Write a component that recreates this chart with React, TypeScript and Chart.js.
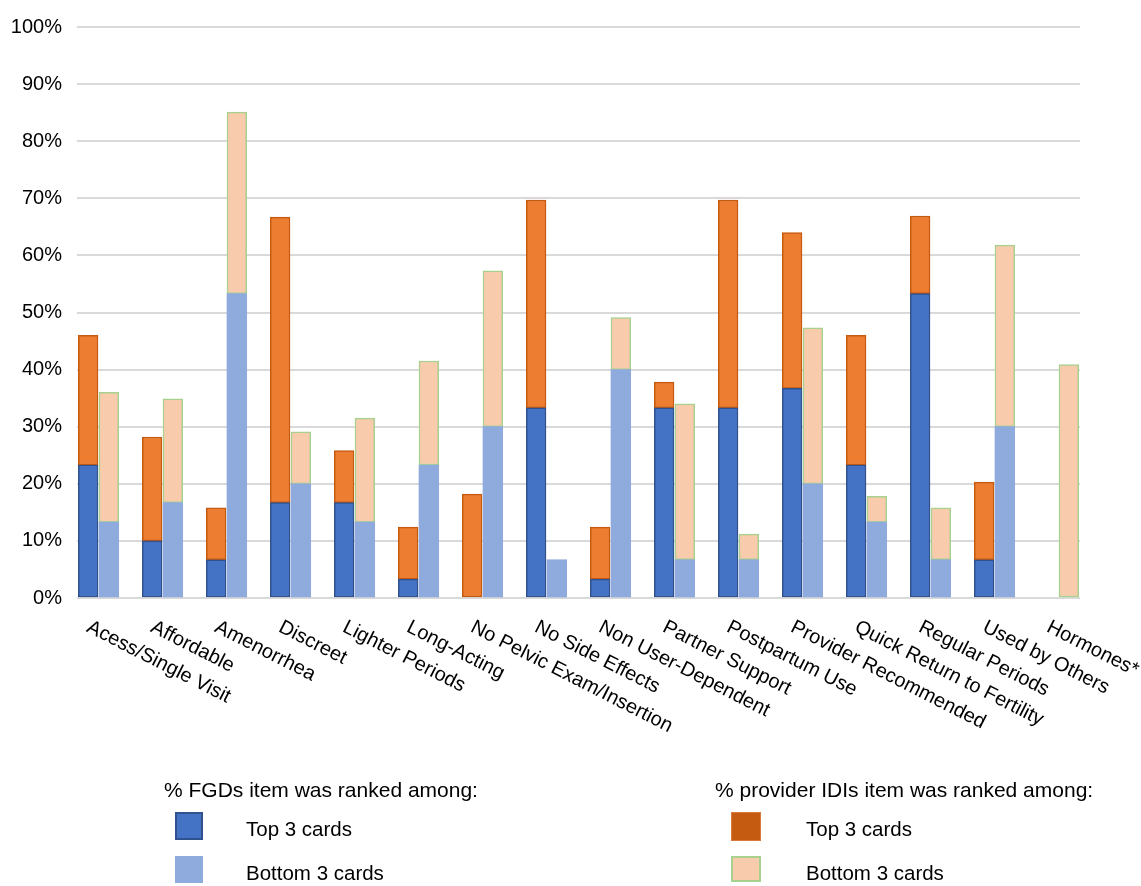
import React, { useEffect, useRef } from "react";
import { Chart, registerables } from "chart.js";

Chart.register(...registerables);

const categories = [
  "Acess/Single Visit",
  "Affordable",
  "Amenorrhea",
  "Discreet",
  "Lighter Periods",
  "Long-Acting",
  "No Pelvic Exam/Insertion",
  "No Side Effects",
  "Non User-Dependent",
  "Partner Support",
  "Postpartum Use",
  "Provider Recommended",
  "Quick Return to Fertility",
  "Regular Periods",
  "Used by Others",
  "Hormones*",
];

// % FGDs item was ranked among top / bottom 3 cards
const fgdTop = [23.3, 10, 6.7, 16.7, 16.7, 3.3, 0, 33.3, 3.3, 33.3, 33.3, 36.7, 23.3, 53.3, 6.7, 0];
const fgdBottom = [13.3, 16.7, 53.3, 20, 13.3, 23.3, 30, 6.7, 40, 6.7, 6.7, 20, 13.3, 6.7, 30, 0];
// % provider IDIs item was ranked among top / bottom 3 cards (stacked on top)
const providerTop = [22.7, 18.2, 9.1, 50, 9.1, 9.1, 18.2, 36.4, 9.1, 4.5, 36.4, 27.3, 22.7, 13.6, 13.6, 0];
const providerBottom = [22.7, 18.2, 31.8, 9.1, 18.2, 18.2, 27.3, 0, 9.1, 27.3, 4.5, 27.3, 4.5, 9.1, 31.8, 40.9];

const yTickValues = [0, 10, 20, 30, 40, 50, 60, 70, 80, 90, 100];

const legendTitles = ["% FGDs item was ranked among:", "% provider IDIs item was ranked among:"];
const legendNames = ["Top 3 cards", "Bottom 3 cards"];

const FONT = "'Liberation Sans', Arial, Helvetica, sans-serif";

const toPoints = (arr: number[]) => arr.map((v, i) => ({ x: i, y: v === 0 ? null : v }));

export default function App() {
  const ref = useRef<HTMLCanvasElement>(null);

  useEffect(() => {
    if (!ref.current) return;

    const styles = {
      fgdTop: { bg: "#4472C4", border: "#2F528F", bw: 1.5 },
      fgdBottom: { bg: "#8FAADC", border: "#8FAADC", bw: 0 },
      provTop: { bg: "#ED7D31", border: "#C55A11", bw: 1.5 },
      provBottom: { bg: "#F8CBAD", border: "#A9D18E", bw: 1.5 },
    };

    const categoryLabels = {
      id: "categoryLabels",
      afterDraw(chart: any) {
        const ctx = chart.ctx;
        const xs = chart.scales.x;
        const bottom = chart.chartArea.bottom;
        ctx.save();
        ctx.font = `20px ${FONT}`;
        ctx.fillStyle = "#000";
        ctx.textAlign = "left";
        ctx.textBaseline = "alphabetic";
        categories.forEach((c, i) => {
          const px = xs.getPixelForValue(i);
          ctx.save();
          ctx.translate(px - 13, bottom + 33);
          ctx.rotate((27 * Math.PI) / 180);
          ctx.fillText(c, 0, 0);
          ctx.restore();
        });
        ctx.restore();
      },
    };

    const customLegend = {
      id: "customLegend",
      afterDraw(chart: any) {
        const ctx = chart.ctx;
        ctx.save();
        ctx.fillStyle = "#000";
        ctx.textAlign = "left";
        ctx.textBaseline = "alphabetic";
        ctx.font = `21px ${FONT}`;
        ctx.fillText(legendTitles[0], 164, 797);
        ctx.fillText(legendTitles[1], 715, 797);

        const box = (x: number, y: number, w: number, h: number, fill: string, stroke: string | null, lw: number) => {
          ctx.fillStyle = fill;
          ctx.fillRect(x, y, w, h);
          if (stroke && lw > 0) {
            ctx.strokeStyle = stroke;
            ctx.lineWidth = lw;
            ctx.strokeRect(x + lw / 2, y + lw / 2, w - lw, h - lw);
          }
        };
        box(175, 812, 28, 28, styles.fgdTop.bg, styles.fgdTop.border, 2);
        box(175, 856, 28, 27, styles.fgdBottom.bg, null, 0);
        box(731, 812, 30, 29, "#C55A11", "#D9793E", 1);
        box(731, 856, 30, 26, styles.provBottom.bg, styles.provBottom.border, 2);

        ctx.fillStyle = "#000";
        ctx.font = `20.5px ${FONT}`;
        ctx.fillText(legendNames[0], 246, 836);
        ctx.fillText(legendNames[1], 246, 880);
        ctx.fillText(legendNames[0], 806, 836);
        ctx.fillText(legendNames[1], 806, 880);
        ctx.restore();
      },
    };

    const common = {
      barThickness: 20.7,
      maxBarThickness: 19.7,
      borderSkipped: false as const,
    };

    const chart = new Chart(ref.current, {
      type: "bar",
      data: {
        datasets: [
          {
            label: "FGDs Top 3 cards",
            data: toPoints(fgdTop) as any,
            stack: "top",
            backgroundColor: styles.fgdTop.bg,
            borderColor: styles.fgdTop.border,
            borderWidth: styles.fgdTop.bw,
            ...common,
          },
          {
            label: "Provider IDIs Top 3 cards",
            data: toPoints(providerTop) as any,
            stack: "top",
            backgroundColor: styles.provTop.bg,
            borderColor: styles.provTop.border,
            borderWidth: styles.provTop.bw,
            ...common,
          },
          {
            label: "FGDs Bottom 3 cards",
            data: toPoints(fgdBottom) as any,
            stack: "bottom",
            backgroundColor: styles.fgdBottom.bg,
            borderColor: styles.fgdBottom.border,
            borderWidth: styles.fgdBottom.bw,
            ...common,
          },
          {
            label: "Provider IDIs Bottom 3 cards",
            data: toPoints(providerBottom) as any,
            stack: "bottom",
            backgroundColor: styles.provBottom.bg,
            borderColor: styles.provBottom.border,
            borderWidth: styles.provBottom.bw,
            ...common,
          },
        ],
      },
      options: {
        animation: false,
        responsive: true,
        maintainAspectRatio: false,
        layout: { padding: { top: 17, right: 61, bottom: 288, left: 0 } },
        plugins: {
          legend: { display: false },
          tooltip: { enabled: false },
        },
        scales: {
          x: {
            type: "linear",
            offset: false,
            min: -0.336,
            max: 15.336,
            stacked: true,
            display: false,
            grid: { offset: false },
            ticks: { stepSize: 1, includeBounds: false },
          },
          y: {
            stacked: true,
            min: 0,
            max: 100,
            afterFit: (s: any) => {
              s.width = 77;
            },
            afterBuildTicks: (s: any) => {
              s.ticks = yTickValues.map((v) => ({ value: v }));
            },
            border: { display: false },
            grid: { color: "#D9D9D9", lineWidth: 2, drawTicks: false },
            ticks: {
              padding: 15,
              color: "#000",
              font: { family: FONT, size: 20 },
              callback: (v: any) => `${v}%`,
            },
          },
        },
      },
      plugins: [categoryLabels, customLegend],
    });

    return () => chart.destroy();
  }, []);

  return (
    <div style={{ position: "fixed", left: 0, top: 0, width: 1141, height: 886, background: "#fff" }}>
      <canvas ref={ref} />
    </div>
  );
}
